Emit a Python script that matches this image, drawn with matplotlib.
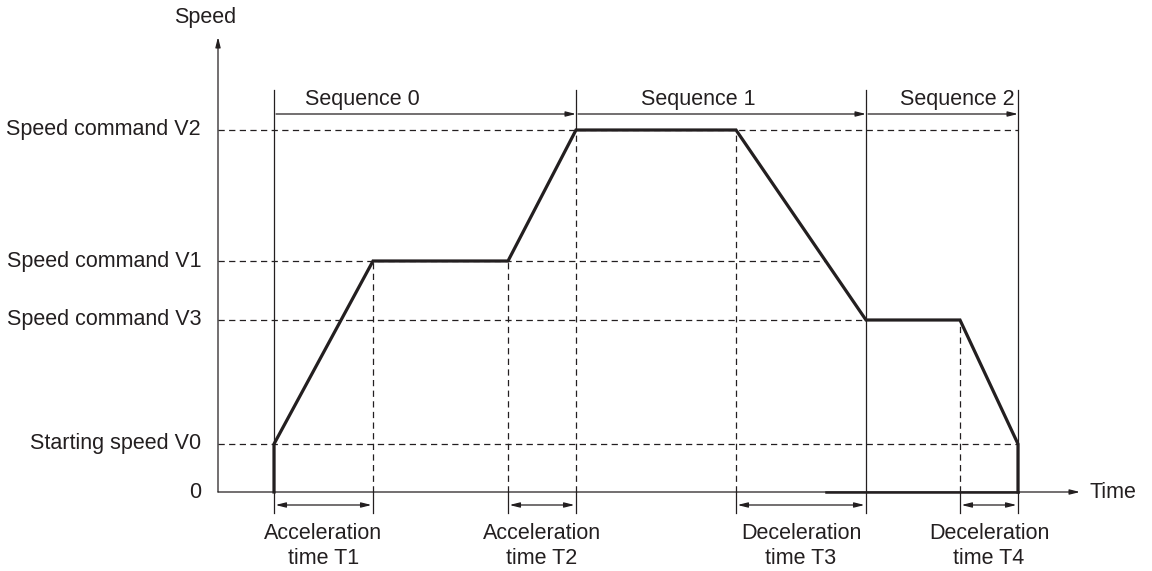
import matplotlib
matplotlib.use('Agg')
import matplotlib.pyplot as plt

plt.rcParams['font.family'] = ['Liberation Sans', 'DejaVu Sans']

# 시간/속도 값 (임의 단위)
seq_times = [5.6, 35.8, 64.8, 80.0]          # Sequence 경계
profile_t = [5.6, 5.6, 15.5, 29.0, 35.8, 51.8, 64.8, 74.2, 80.0, 80.0]
V0, V1, V2, V3 = 4.8, 23.1, 36.2, 17.2
profile_v = [0, V0, V1, V1, V2, V2, V3, V3, V0, 0]

speed_levels = [0, V0, V3, V1, V2]
speed_labels = ['0', 'Starting speed V0', 'Speed command V3',
                'Speed command V1', 'Speed command V2']
seq_labels = ['Sequence 0', 'Sequence 1', 'Sequence 2']
seq_label_t = [14.4, 48.0, 73.9]

# 가감속 구간 (시작, 끝, 라벨)
ramps = [(5.6, 15.5, 'Acceleration\ntime T1'),
         (29.0, 35.8, 'Acceleration\ntime T2'),
         (51.8, 64.8, 'Deceleration\ntime T3'),
         (74.2, 80.0, 'Deceleration\ntime T4')]

ink = '#231f20'
fs = 15.5

fig = plt.figure(figsize=(11.52, 5.71), dpi=100)
ax = fig.add_axes([0, 0, 1, 1])
ax.set_xlim(-21.8, 93.4)
ax.set_ylim(-7.9, 49.2)
ax.axis('off')

arrow = dict(arrowstyle='-|>,head_length=0.6,head_width=0.15', color=ink, lw=0.9,
             shrinkA=0, shrinkB=0)
darrow = dict(arrowstyle='<|-|>,head_length=0.6,head_width=0.15', color=ink, lw=0.9,
              shrinkA=0, shrinkB=0)

# 축
ax.annotate('', xy=(0, 45.5), xytext=(0, 0), arrowprops=arrow)
ax.annotate('', xy=(86.2, 0), xytext=(0, 0), arrowprops=arrow)
ax.text(-1.3, 47.5, 'Speed', fontsize=fs, color=ink, ha='center', va='center')
ax.text(87.2, 0, 'Time', fontsize=fs, color=ink, ha='left', va='center')

# 속도 라벨
for v, lab in zip(speed_levels, speed_labels):
    ax.text(-1.7, v, lab, fontsize=fs, color=ink, ha='right', va='center')

# 점선 수평선
t_cross = profile_t[5] + (V2 - V1) / (V2 - V3) * (profile_t[6] - profile_t[5])
h_ends = {V0: 80.0, V3: 64.8, V1: t_cross, V2: 80.0}
dash = dict(color=ink, lw=0.9, ls=(0, (5, 3.5)))
for v, xe in h_ends.items():
    ax.plot([0, xe], [v, v], **dash)

# 점선 수직선
v_dash = [(15.5, V1), (29.0, V1), (35.8, V2), (51.8, V2), (74.2, V3)]
for t, v in v_dash:
    ax.plot([t, t], [0, v], **dash)

# Sequence 경계선
for t in seq_times:
    bottom = V2 if t == 35.8 else 0
    ax.plot([t, t], [bottom, 40.2], color=ink, lw=0.9)

# 아래쪽 눈금
for t in sorted(set([r[0] for r in ramps] + [r[1] for r in ramps] + seq_times)):
    ax.plot([t, t], [0, -2.1], color=ink, lw=0.9)

# Sequence 화살표
for i, lab in enumerate(seq_labels):
    a, b = seq_times[i], seq_times[i + 1]
    ax.annotate('', xy=(b, 37.8), xytext=(a + 0.2, 37.8), arrowprops=arrow)
    ax.text(seq_label_t[i], 39.2, lab, fontsize=fs, color=ink,
            ha='center', va='center')

# 가감속 시간 화살표
for a, b, lab in ramps:
    ax.annotate('', xy=(b - 0.15, -1.3), xytext=(a + 0.15, -1.3), arrowprops=darrow)
    ax.text((a + b) / 2, -5.4, lab, fontsize=fs, color=ink, ha='center',
            va='center', linespacing=1.3)

# 속도 프로파일
ax.plot(profile_t, profile_v, color=ink, lw=2.3, solid_joinstyle='miter')
ax.plot([t_cross, 80.0], [0, 0], color=ink, lw=1.8)

fig.savefig('out.png', dpi=100)
